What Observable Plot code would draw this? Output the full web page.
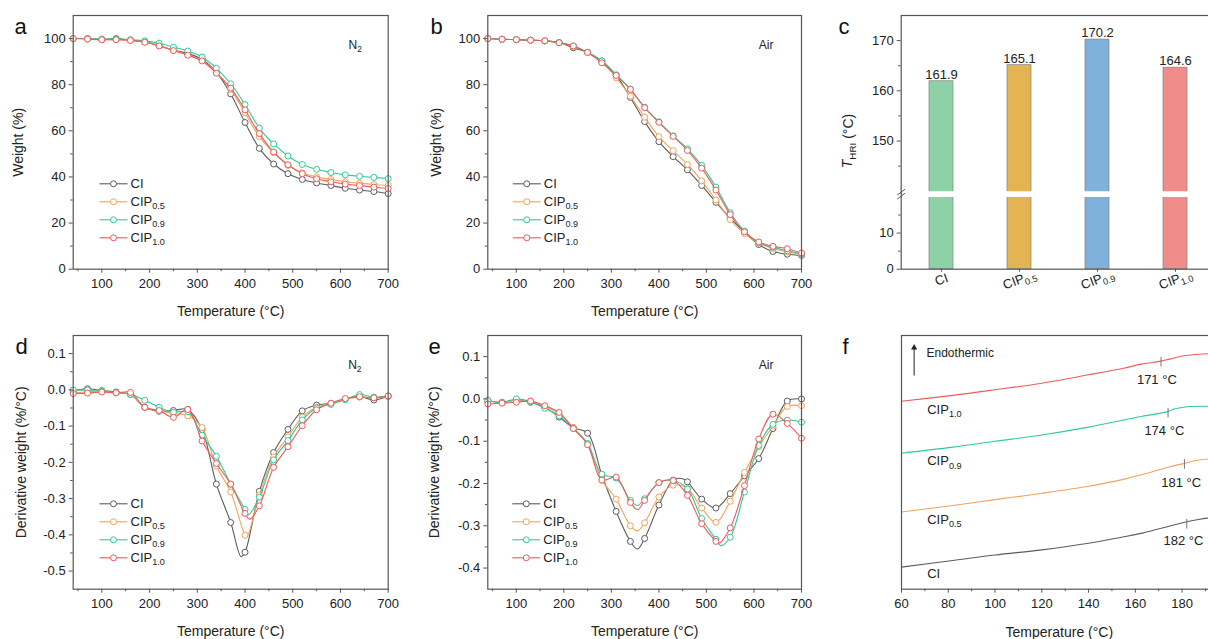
<!DOCTYPE html>
<html><head><meta charset="utf-8">
<script src="https://cdn.jsdelivr.net/npm/d3@7"></script>
<script src="https://cdn.jsdelivr.net/npm/@observablehq/plot@0.6"></script>
<style>
body{margin:0;background:#fff;}
#fig{position:relative;width:1208px;height:639px;overflow:hidden;background:#fff;}
#fig svg{position:absolute;}
</style></head><body><div id="fig"></div>
<script>
// ---------------- data ----------------
const series = ["CI", "CIP0.5", "CIP0.9", "CIP1.0"];
const seriesLabels = ["CI", "CIP_{0.5}", "CIP_{0.9}", "CIP_{1.0}"];
const lineColors = ["#5c5c5c", "#f3a35a", "#2ecb9b", "#ef5a5a"];
const barColors = ["#8fd1a7", "#e4b453", "#7fb1dc", "#f08c8a"];

const temps = [40,70,100,130,160,190,220,250,280,310,340,370,400,430,460,490,520,550,580,610,640,670,700];
const xTicksT = [100,200,300,400,500,600,700];
const xMinorT = [50,150,250,350,450,550,650];

// (a) TGA in N2, weight %
const tgaN2_CI    = [100,100,99.6,100,99.3,98.6,97,95,93.5,91,85.3,76,63.6,52.4,45.6,41.4,38.9,37.4,36.3,35.1,34.3,33.7,32.8];
const tgaN2_CIP05 = [100,99.8,99.5,99.5,99.2,98.5,96.9,94.9,93,90.5,85.2,78,67.8,57.5,50.5,45,41.8,40,38.9,37.9,37.3,36.7,36.3];
const tgaN2_CIP09 = [100,100,99.8,99.8,99.5,99,98,96.3,94.6,92,87.1,80.4,71.4,61.2,54.3,49.1,45.4,43.3,41.9,40.9,40.3,39.8,39.3];
const tgaN2_CIP10 = [100,99.8,99.5,99.5,99.2,98.4,96.8,94.8,92.8,90.3,85,78.5,69.1,58.8,50.8,45.3,41.4,39.2,37.9,36.9,36.3,35.6,35];

// (b) TGA in air, weight %
const tgaAir_CI    = [100,99.7,99.5,99.3,99,98.2,96,94,90.3,84,74.5,64,55.3,48.8,43.1,36.3,29,22.1,16.1,10.7,7.7,6.5,6];
const tgaAir_CIP05 = [100,99.7,99.5,99.3,99,98.2,96.6,94,90,83,75,65.9,57.5,51.4,45.4,38.3,30,21.5,15.4,11.3,9,7.5,6.5];
const tgaAir_CIP09 = [100,99.7,99.5,99.3,99,98.3,96.8,94,90.3,84.3,78.1,70.2,63.9,57.8,52.2,45,35.6,24.5,16.5,11.5,9.5,8,6.8];
const tgaAir_CIP10 = [100,99.7,99.5,99.3,99,98.2,96.8,94,89.5,84,78,70,63.7,57.6,51.5,43.8,34.3,23.7,16.2,11.8,9.9,8.9,7];

// (c) T_HRI, °C
const thri = [161.9, 165.1, 170.2, 164.6];

// (d) DTG in N2, %/°C
const dtgN2_CI    = [-0.003,0.003,-0.002,-0.006,-0.013,-0.048,-0.059,-0.057,-0.054,-0.11,-0.26,-0.366,-0.448,-0.28,-0.173,-0.109,-0.058,-0.042,-0.037,-0.026,-0.018,-0.028,-0.017];
const dtgN2_CIP05 = [-0.008,-0.005,-0.003,-0.008,-0.012,-0.048,-0.058,-0.065,-0.072,-0.104,-0.21,-0.282,-0.401,-0.29,-0.185,-0.13,-0.075,-0.048,-0.038,-0.026,-0.02,-0.022,-0.018];
const dtgN2_CIP09 = [0,-0.001,-0.004,-0.008,-0.012,-0.029,-0.048,-0.062,-0.06,-0.125,-0.183,-0.26,-0.33,-0.296,-0.193,-0.14,-0.083,-0.05,-0.04,-0.027,-0.013,-0.02,-0.018];
const dtgN2_CIP10 = [-0.01,-0.009,-0.006,-0.008,-0.007,-0.048,-0.057,-0.076,-0.054,-0.141,-0.203,-0.26,-0.341,-0.32,-0.214,-0.157,-0.099,-0.055,-0.037,-0.024,-0.019,-0.022,-0.017];
// peak points of the curves between symbols [T, value]
const dtgN2_peaks = [[[392,-0.46]], [[404,-0.405]], [[407,-0.345]], [[410,-0.357]]];

// (e) DTG in air, %/°C
const dtgAir_CI    = [-0.005,-0.008,-0.003,-0.008,-0.02,-0.043,-0.068,-0.081,-0.18,-0.266,-0.337,-0.33,-0.251,-0.192,-0.196,-0.237,-0.258,-0.224,-0.182,-0.141,-0.07,-0.005,0];
const dtgAir_CIP05 = [-0.005,-0.008,-0.003,-0.005,-0.018,-0.035,-0.068,-0.108,-0.192,-0.237,-0.3,-0.293,-0.232,-0.204,-0.212,-0.258,-0.292,-0.242,-0.174,-0.113,-0.064,-0.018,-0.016];
const dtgAir_CIP09 = [-0.003,-0.008,0,-0.007,-0.022,-0.04,-0.07,-0.105,-0.178,-0.187,-0.24,-0.236,-0.198,-0.193,-0.213,-0.283,-0.332,-0.327,-0.22,-0.11,-0.06,-0.05,-0.055];
const dtgAir_CIP10 = [-0.012,-0.01,-0.008,-0.005,-0.016,-0.032,-0.07,-0.108,-0.192,-0.185,-0.245,-0.24,-0.198,-0.193,-0.228,-0.295,-0.337,-0.305,-0.205,-0.095,-0.036,-0.058,-0.093];
const dtgAir_peaks = [[[355,-0.355],[448,-0.188]], [[355,-0.312]], [[355,-0.252],[530,-0.347]], [[355,-0.262],[525,-0.342]]];

// (f) DSC heat flow (arbitrary units, stacked)
const dscT_CI    = [60,82,100,120,140,154,163,174,181,187,192,197];
const dsc_CI     = [8.7,11.3,13.5,15.5,18.1,20.5,22.1,24.7,26.4,27.5,28.1,28.4];
const dscT_CIP05 = [60,82,100,120,140,154,163,174,180,186,192,197];
const dsc_CIP05  = [30.4,33.0,35.3,37.8,40.6,43.1,45.2,48.1,49.4,50.7,51.4,51.7];
const dscT_CIP09 = [60,82,100,120,140,154,163,173,177,183,192,197];
const dsc_CIP09  = [53.6,56.0,58.3,60.8,63.9,66.5,68.2,69.8,71.1,72.0,72.1,72.1];
const dscT_CIP10 = [60,82,100,120,140,155,163,171,175,181,187,192,197];
const dsc_CIP10  = [74.1,76.4,78.6,81.2,84.5,87.1,88.8,89.9,90.8,92.0,92.6,92.8,92.8];
const tgT   = [182, 181, 174, 171];          // glass transition marks (°C)
const tgAt  = [25.6, 49.2, 69.4, 89.5];      // curve height at the mark
const tgLabelT = [180.6, 179.6, 172.4, 169.2];
const tgLabelY = [19.2, 42.1, 62.6, 82.5];
const dscNameT = [71, 71, 71, 71];
const dscNameY = [6.0, 27.5, 50.5, 70.7];
const endoArrow = {T: 65.4, from: 84.2, to: 95.2, labelT: 70.7, labelY: 93};

// ---------------- helpers ----------------
const FONT = '"Liberation Sans", Arial, Helvetica, sans-serif';
const AXC = "#555";
const TXT = "#222";
const STYLE = {fontFamily: FONT, fontSize: "13px", color: TXT, background: "transparent", overflow: "visible"};
const fig = document.getElementById("fig");

function rich(svg) {
  svg.querySelectorAll("text").forEach(t => {
    const leaves = t.querySelector("tspan") ? [...t.querySelectorAll("tspan")] : [t];
    for (const n of leaves) {
      const s = n.textContent;
      if (!/_\{|\*/.test(s)) continue;
      const parts = s.split(/(_\{[^}]*\}|\*[^*]+\*)/).filter(p => p !== "");
      n.textContent = "";
      let down = false;
      for (const p of parts) {
        const ts = document.createElementNS("http://www.w3.org/2000/svg", "tspan");
        if (p.startsWith("_{")) {
          ts.textContent = p.slice(2, -1);
          ts.setAttribute("font-size", "70%");
          if (!down) ts.setAttribute("dy", "0.36em");
          down = true;
        } else {
          if (p.startsWith("*")) { ts.textContent = p.slice(1, -1); ts.setAttribute("font-style", "italic"); }
          else ts.textContent = p;
          if (down) ts.setAttribute("dy", "-0.25em");
          down = false;
        }
        n.appendChild(ts);
      }
    }
  });
}
function place(svg, left, top) {
  svg.style.left = left + "px";
  svg.style.top = top + "px";
  rich(svg);
  fig.appendChild(svg);
}
const lineSym = {draw(ctx) { ctx.moveTo(-14, 0); ctx.lineTo(14, 0); }};
const breakSym = {draw(ctx) { ctx.moveTo(-4, 1); ctx.lineTo(4, -5); ctx.moveTo(-4, 5); ctx.lineTo(4, -1); }};

function letter(ch, dx) {
  return Plot.text([ch], {frameAnchor: "top-left", dx, dy: 11, text: d => d, textAnchor: "start", lineAnchor: "middle", fontSize: 22, fill: "#111"});
}
function axesXY(o) {
  return [
    Plot.frame({stroke: AXC, strokeWidth: 1.2}),
    Plot.axisX(o.xMajor, {tickSize: 4, tickPadding: 5.5, stroke: AXC, fill: TXT, label: null}),
    Plot.axisX(o.xMinor, {tickSize: 2.5, tickFormat: () => "", stroke: AXC, label: null}),
    Plot.axisY(o.yMajor, {tickSize: 4, tickPadding: 3.5, tickFormat: o.yFmt, stroke: AXC, fill: TXT, label: null}),
    Plot.axisY(o.yMinor, {tickSize: 2.5, tickFormat: () => "", stroke: AXC, label: null})
  ];
}

function curvePanel(o) {
  const marks = [];
  o.data.forEach((vals, i) => {
    const rows = o.T.map((t, j) => ({T: t, v: vals[j]}));
    const lineRows = rows.concat((o.extra ? o.extra[i] : []).map(([t, v]) => ({T: t, v}))).sort((a, b) => a.T - b.T);
    marks.push(Plot.line(lineRows, {x: "T", y: "v", stroke: lineColors[i], strokeWidth: 1.1, curve: "catmull-rom"}));
    marks.push(Plot.dot(rows, {x: "T", y: "v", r: 3, stroke: lineColors[i], fill: "white", strokeWidth: 1}));
  });
  marks.push(...axesXY(o));
  series.forEach((s, i) => {
    const dy = o.legDy + 18 * i;
    marks.push(Plot.dot([s], {frameAnchor: "top-left", dx: o.legDx, dy, symbol: lineSym, stroke: lineColors[i], fill: "none", strokeWidth: 1.1}));
    marks.push(Plot.dot([s], {frameAnchor: "top-left", dx: o.legDx, dy, r: 3, stroke: lineColors[i], fill: "white", strokeWidth: 1}));
    marks.push(Plot.text([seriesLabels[i]], {frameAnchor: "top-left", dx: o.legDx + 17, dy, text: d => d, textAnchor: "start", lineAnchor: "middle", fontSize: 13}));
  });
  marks.push(Plot.text([o.note], {frameAnchor: "top-left", dx: o.noteDx, dy: 30, text: d => d, textAnchor: "start", lineAnchor: "middle", fontSize: 12}));
  marks.push(Plot.text(["Temperature (°C)"], {frameAnchor: "bottom", dy: 42.5, text: d => d, textAnchor: "middle", lineAnchor: "middle", fontSize: 14}));
  marks.push(Plot.text([o.yTitle], {frameAnchor: "left", dx: o.yTitleDx, rotate: -90, text: d => d, textAnchor: "middle", lineAnchor: "middle", fontSize: 14}));
  marks.push(letter(o.letter, o.letterDx));
  const svg = Plot.plot({
    width: 410, height: o.height, marginLeft: o.ml, marginRight: o.mr, marginTop: 15, marginBottom: o.height - o.bottom,
    x: {domain: [40, 700]}, y: {domain: o.yDomain},
    style: STYLE, marks
  });
  place(svg, o.left, o.top);
}

const fmtInt = d => String(d);
const fmt1 = d => d.toFixed(1);

// (a)
curvePanel({left: 0, top: 0, height: 320, bottom: 268.7, ml: 72.7, mr: 22.3,
  T: temps, data: [tgaN2_CI, tgaN2_CIP05, tgaN2_CIP09, tgaN2_CIP10],
  yDomain: [0, 110], xMajor: xTicksT, xMinor: xMinorT,
  yMajor: [0,20,40,60,80,100], yMinor: [10,30,50,70,90], yFmt: fmtInt,
  legDx: 40.3, legDy: 168.3, note: "N_{2}", noteDx: 275.3,
  yTitle: "Weight (%)", yTitleDx: -54.4, letter: "a", letterDx: -58.7});
// (b)
curvePanel({left: 400, top: 0, height: 320, bottom: 268.7, ml: 87.3, mr: 9,
  T: temps, data: [tgaAir_CI, tgaAir_CIP05, tgaAir_CIP09, tgaAir_CIP10],
  yDomain: [0, 110], xMajor: xTicksT, xMinor: xMinorT,
  yMajor: [0,20,40,60,80,100], yMinor: [10,30,50,70,90], yFmt: fmtInt,
  legDx: 39, legDy: 168.3, note: "Air", noteDx: 271,
  yTitle: "Weight (%)", yTitleDx: -51.5, letter: "b", letterDx: -57.3});
// (d)
curvePanel({left: 0, top: 320, height: 319, bottom: 268.7, ml: 72.7, mr: 22.3,
  T: temps, data: [dtgN2_CI, dtgN2_CIP05, dtgN2_CIP09, dtgN2_CIP10], extra: dtgN2_peaks,
  yDomain: [-0.55, 0.15], xMajor: xTicksT, xMinor: xMinorT,
  yMajor: [-0.5,-0.4,-0.3,-0.2,-0.1,0,0.1], yMinor: [-0.45,-0.35,-0.25,-0.15,-0.05,0.05], yFmt: fmt1,
  legDx: 40.3, legDy: 168.3, note: "N_{2}", noteDx: 275,
  yTitle: "Derivative weight (%/°C)", yTitleDx: -51.9, letter: "d", letterDx: -57.7});
// (e)
curvePanel({left: 400, top: 320, height: 319, bottom: 268.7, ml: 87.3, mr: 9,
  T: temps, data: [dtgAir_CI, dtgAir_CIP05, dtgAir_CIP09, dtgAir_CIP10], extra: dtgAir_peaks,
  yDomain: [-0.45, 0.15], xMajor: xTicksT, xMinor: xMinorT,
  yMajor: [-0.4,-0.3,-0.2,-0.1,0,0.1], yMinor: [-0.35,-0.25,-0.15,-0.05,0.05], yFmt: fmt1,
  legDx: 38.5, legDy: 168.3, note: "Air", noteDx: 271,
  yTitle: "Derivative weight (%/°C)", yTitleDx: -53.1, letter: "e", letterDx: -59.3});

// (c) bar chart with broken axis
{
  const barRows = series.map((s, i) => ({s, v: thri[i], c: barColors[i], lab: seriesLabels[i]}));
  const svg = Plot.plot({
    width: 410, height: 320, marginLeft: 80.7, marginRight: 15, marginTop: 15, marginBottom: 51.3,
    x: {type: "band", domain: series, paddingInner: 0.694, paddingOuter: 0.35},
    y: {type: "linear", domain: [0, 20, 140, 175], range: [268.7, 196.5, 190.7, 15]},
    color: {type: "identity"},
    style: STYLE,
    marks: [
      Plot.barY(barRows, {x: "s", y: "v", fill: "c", stroke: "#808080", strokeWidth: 0.7}),
      Plot.ruleY([80], {stroke: "white", strokeWidth: 5.8}),
      Plot.text(barRows, {x: "s", y: "v", text: d => d.v.toFixed(1), dy: -2.5, textAnchor: "middle", lineAnchor: "bottom", fontSize: 13}),
      Plot.frame({stroke: AXC, strokeWidth: 1.2}),
      Plot.dot([80], {y: d => d, frameAnchor: "left", symbol: breakSym, stroke: AXC, fill: "none", strokeWidth: 1}),
      Plot.axisY([0,10,150,160,170], {tickSize: 4, tickPadding: 3.5, tickFormat: fmtInt, stroke: AXC, fill: TXT, label: null}),
      Plot.axisY([5,15,145,155,165], {tickSize: 2.5, tickFormat: () => "", stroke: AXC, label: null}),
      Plot.axisX(series, {tickSize: 3, tickFormat: () => "", stroke: AXC, label: null}),
      Plot.text(barRows, {x: "s", text: "lab", frameAnchor: "bottom", dy: 10.5, rotate: -20, textAnchor: "middle", lineAnchor: "middle", fontSize: 13}),
      Plot.text(["*T*_{HRI} (°C)"], {y: () => 150, frameAnchor: "left", dx: -53.2, rotate: -90, text: d => d, textAnchor: "middle", lineAnchor: "middle", fontSize: 14}),
      letter("c", -62.7)
    ]
  });
  place(svg, 820, 0);
}

// (f) DSC
{
  const dscT = [dscT_CI, dscT_CIP05, dscT_CIP09, dscT_CIP10];
  const dscV = [dsc_CI, dsc_CIP05, dsc_CIP09, dsc_CIP10];
  const marks = [];
  dscT.forEach((T, i) => {
    const rows = T.map((t, j) => ({T: t, v: dscV[i][j]}));
    marks.push(Plot.line(rows, {x: "T", y: "v", stroke: lineColors[i], strokeWidth: 1.1, curve: "catmull-rom"}));
  });
  const tgRows = series.map((s, i) => ({T: tgT[i], v: tgAt[i], lt: tgLabelT[i], ly: tgLabelY[i], lab: tgT[i] + " °C", nt: dscNameT[i], ny: dscNameY[i], name: seriesLabels[i]}));
  marks.push(
    Plot.ruleX(tgRows, {x: "T", y1: d => d.v - 1.9, y2: d => d.v + 1.9, stroke: "#777", strokeWidth: 1}),
    Plot.text(tgRows, {x: "lt", y: "ly", text: "lab", textAnchor: "middle", lineAnchor: "middle", fontSize: 13}),
    Plot.text(tgRows, {x: "nt", y: "ny", text: "name", textAnchor: "start", lineAnchor: "middle", fontSize: 13}),
    Plot.link([endoArrow], {x1: "T", x2: "T", y1: "from", y2: "to", stroke: "#222", strokeWidth: 1}),
    Plot.dot([endoArrow], {x: "T", y: "to", symbol: "triangle", r: 2.3, fill: "#222", stroke: "none"}),
    Plot.text([endoArrow], {x: "labelT", y: "labelY", text: () => "Endothermic", textAnchor: "start", lineAnchor: "middle", fontSize: 12}),
    Plot.frame({stroke: AXC, strokeWidth: 1.2}),
    Plot.axisX([60,80,100,120,140,160,180], {tickSize: 4, tickPadding: 5.5, stroke: AXC, fill: TXT, label: null}),
    Plot.axisX([70,90,110,130,150,170,190], {tickSize: 2.5, tickFormat: () => "", stroke: AXC, label: null}),
    Plot.text(["Temperature (°C)"], {x: () => 127.5, frameAnchor: "bottom", dy: 43, text: d => d, textAnchor: "middle", lineAnchor: "middle", fontSize: 14}),
    letter("f", -59)
  );
  const svg = Plot.plot({
    width: 410, height: 319, marginLeft: 81, marginRight: 11, marginTop: 15, marginBottom: 50.3,
    x: {domain: [60, 196]}, y: {domain: [0, 100], axis: null},
    style: STYLE, marks
  });
  place(svg, 820, 320);
}
</script></body></html>
